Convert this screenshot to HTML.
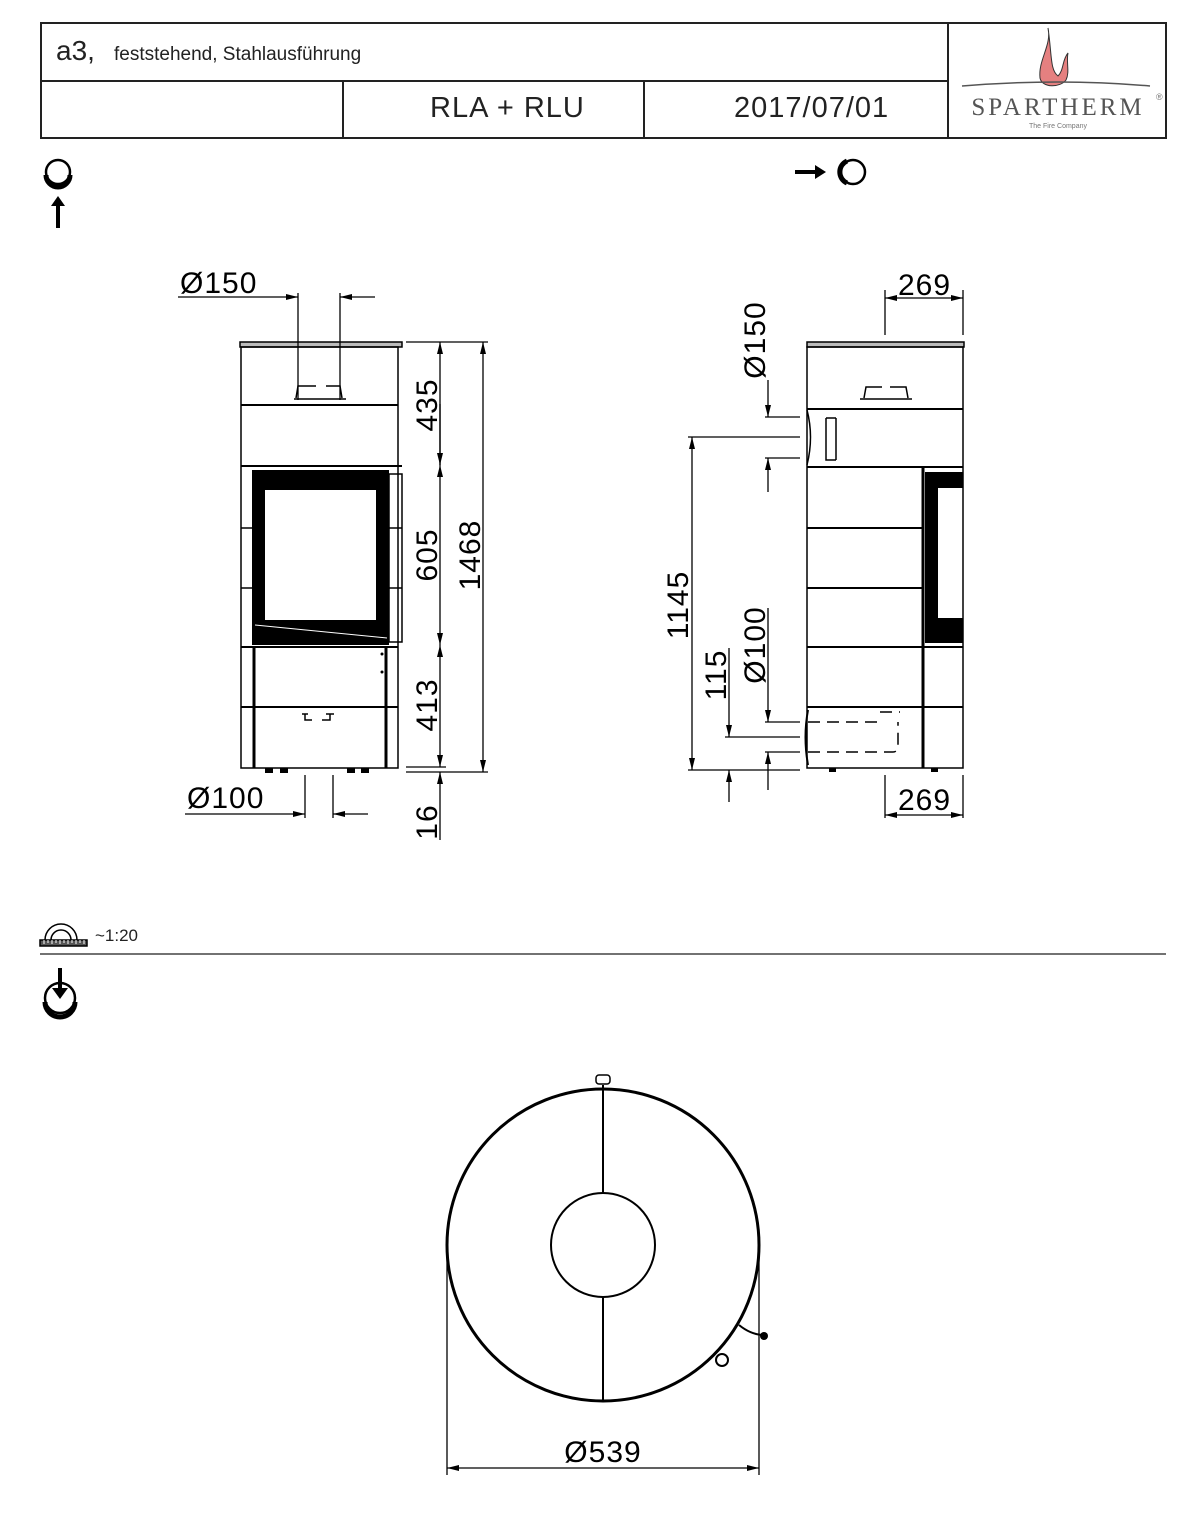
<!DOCTYPE html>
<html><head><meta charset="utf-8"><style>
html,body{margin:0;padding:0;background:#fff;}
svg{display:block;font-family:"Liberation Sans",sans-serif;}
</style></head><body>
<svg width="1200" height="1522" viewBox="0 0 1200 1522" xmlns="http://www.w3.org/2000/svg">
<defs>
<marker id="a" viewBox="0 0 12 6" refX="12" refY="3" markerWidth="12" markerHeight="6" orient="auto" markerUnits="userSpaceOnUse"><path d="M0,0L12,3L0,6z" fill="#000"/></marker>
</defs>
<g stroke="#222" fill="none" stroke-width="2">
<rect x="41" y="23" width="1125" height="115"/>
<line x1="41" y1="81" x2="948" y2="81"/>
<line x1="948" y1="23" x2="948" y2="138"/>
<line x1="343" y1="81" x2="343" y2="138"/>
<line x1="644" y1="81" x2="644" y2="138"/>
</g>
<text x="56" y="60" font-size="28" fill="#222">a3,</text>
<text x="114" y="60" font-size="19" fill="#222">feststehend, Stahlausführung</text>
<text x="430" y="117" font-size="29" fill="#222" letter-spacing="1">RLA + RLU</text>
<text x="734" y="117" font-size="29" fill="#222" letter-spacing="1">2017/07/01</text>
<!-- logo -->
<path d="M1048,28 C1052,45 1038,60 1040,78 C1042,88 1060,88 1066,80 C1070,72 1066,62 1068,53 C1062,60 1064,70 1058,76 C1050,70 1052,55 1048,28z" fill="#e58080" stroke="#333" stroke-width="1"/>
<path d="M962,86 Q1060,78 1150,86" stroke="#555" fill="none" stroke-width="1.5"/>
<text x="1058" y="115" font-size="25" fill="#555" text-anchor="middle" font-family="Liberation Serif,serif" letter-spacing="3">SPARTHERM</text>
<text x="1058" y="128" font-size="7" fill="#777" text-anchor="middle">The Fire Company</text>
<text x="1156" y="100" font-size="9" fill="#777">®</text>
<!-- view icons -->
<g stroke="#000" fill="none">
<circle cx="58" cy="172" r="12" stroke-width="2.5"/>
<path d="M46,175 A12,12 0 0 0 70,175" stroke-width="5"/>
<line x1="58" y1="228" x2="58" y2="205" stroke-width="4"/>
<circle cx="853" cy="172" r="12" stroke-width="2.5"/>
<path d="M847,161 A12,12 0 0 0 847,183" stroke-width="5"/>
<line x1="795" y1="172" x2="816" y2="172" stroke-width="4"/>
</g>
<path d="M51,206 L58,196 L65,206z" fill="#000"/>
<path d="M815,165 L826,172 L815,179z" fill="#000"/>

<!-- FRONT VIEW -->
<g stroke="#000" fill="none" stroke-width="1.5">
<rect x="240" y="342" width="162" height="5" fill="#bbb"/>
<rect x="241" y="347" width="157" height="421"/>
<line x1="241" y1="405" x2="398" y2="405" stroke-width="2"/>
<line x1="241" y1="466" x2="402" y2="466" stroke-width="2"/>
<line x1="241" y1="647" x2="398" y2="647" stroke-width="2"/>
<line x1="241" y1="707" x2="398" y2="707" stroke-width="2"/>
<rect x="389" y="474" width="13" height="168"/>
<line x1="241" y1="528" x2="252" y2="528"/><line x1="241" y1="588" x2="252" y2="588"/>
<line x1="389" y1="528" x2="402" y2="528"/><line x1="389" y1="588" x2="402" y2="588"/>
<line x1="254" y1="648" x2="254" y2="768" stroke-width="3"/>
<line x1="386" y1="648" x2="386" y2="768" stroke-width="3"/>
<path d="M296,398 L298,386 L316,386 M326,386 L340,386 L342,398 M294,399 L346,399" />
<path d="M305,714 L305,720 L312,720 M322,720 L330,720 L330,714 M302,714 L308,714 M326,714 L334,714"/>
</g>
<path d="M252,470 H389 V645 H252z M265,490 V620 H376 V490z" fill="#000" fill-rule="evenodd"/>
<line x1="255" y1="625" x2="387" y2="638" stroke="#fff" stroke-width="1"/>
<g fill="#000"><rect x="265" y="768" width="8" height="5"/><rect x="280" y="768" width="8" height="5"/><rect x="347" y="768" width="8" height="5"/><rect x="361" y="768" width="8" height="5"/>
<circle cx="382" cy="654" r="1.5"/><circle cx="382" cy="672" r="1.5"/></g>
<!-- front dims -->
<g stroke="#000" stroke-width="1.3" fill="none">
<line x1="298" y1="293" x2="298" y2="400"/><line x1="340" y1="293" x2="340" y2="400"/>
<line x1="178" y1="297" x2="298" y2="297" marker-end="url(#a)"/>
<line x1="375" y1="297" x2="340" y2="297" marker-end="url(#a)"/>
<line x1="305" y1="775" x2="305" y2="818"/><line x1="333" y1="775" x2="333" y2="818"/>
<line x1="185" y1="814" x2="305" y2="814" marker-end="url(#a)"/>
<line x1="368" y1="814" x2="333" y2="814" marker-end="url(#a)"/>
<line x1="406" y1="342" x2="488" y2="342"/>
<line x1="406" y1="767" x2="446" y2="767"/>
<line x1="406" y1="772" x2="488" y2="772"/>
<line x1="440" y1="465" x2="440" y2="342" marker-end="url(#a)"/>
<line x1="440" y1="404" x2="440" y2="465" marker-end="url(#a)"/>
<line x1="440" y1="555" x2="440" y2="465" marker-end="url(#a)"/>
<line x1="440" y1="555" x2="440" y2="645" marker-end="url(#a)"/>
<line x1="440" y1="705" x2="440" y2="645" marker-end="url(#a)"/>
<line x1="440" y1="705" x2="440" y2="767" marker-end="url(#a)"/>
<line x1="440" y1="840" x2="440" y2="772" marker-end="url(#a)"/>
<line x1="483" y1="555" x2="483" y2="342" marker-end="url(#a)"/>
<line x1="483" y1="555" x2="483" y2="772" marker-end="url(#a)"/>
</g>
<g font-size="30" fill="#000" letter-spacing="1">
<text x="180" y="293">Ø150</text>
<text x="187" y="808">Ø100</text>
<text transform="translate(437,405) rotate(-90)" text-anchor="middle">435</text>
<text transform="translate(437,555) rotate(-90)" text-anchor="middle">605</text>
<text transform="translate(437,705) rotate(-90)" text-anchor="middle">413</text>
<text transform="translate(480,555) rotate(-90)" text-anchor="middle">1468</text>
<text transform="translate(437,822) rotate(-90)" text-anchor="middle">16</text>
</g>

<!-- SIDE VIEW -->
<g stroke="#000" fill="none" stroke-width="1.5">
<rect x="807" y="342" width="157" height="5" fill="#bbb"/>
<rect x="807" y="347" width="156" height="421"/>
<line x1="807" y1="409" x2="963" y2="409" stroke-width="2"/>
<line x1="807" y1="467" x2="963" y2="467" stroke-width="2"/>
<line x1="807" y1="528" x2="922" y2="528" stroke-width="2"/>
<line x1="807" y1="588" x2="922" y2="588" stroke-width="2"/>
<line x1="807" y1="647" x2="963" y2="647" stroke-width="2"/>
<line x1="807" y1="707" x2="963" y2="707" stroke-width="2"/>
<line x1="923" y1="467" x2="923" y2="768" stroke-width="3"/>
<path d="M807,410 Q814,437 807,465"/>
<path d="M864,398 L866,387 L882,387 M890,387 L906,387 L908,398 M860,399 L912,399"/>
<path d="M826,418 H836 M826,418 V460 H836 M836,418 V460"/>
<path d="M808,722 H880 M808,752 H893 Q898,752 898,745 V722 M880,712 H900" stroke-dasharray="12,7"/>
<path d="M808,710 Q803,737 808,765" stroke-width="2"/>
</g>
<path d="M925,472 H963 V643 H925z M938,488 V618 H963 V488z" fill="#000" fill-rule="evenodd"/>
<g fill="#000"><rect x="829" y="768" width="7" height="4"/><rect x="931" y="768" width="7" height="4"/></g>
<g stroke="#000" stroke-width="1.3" fill="none">
<line x1="885" y1="290" x2="885" y2="335"/><line x1="963" y1="290" x2="963" y2="335"/>
<line x1="925" y1="298" x2="885" y2="298" marker-end="url(#a)"/>
<line x1="925" y1="298" x2="963" y2="298" marker-end="url(#a)"/>
<line x1="885" y1="775" x2="885" y2="818"/><line x1="963" y1="775" x2="963" y2="818"/>
<line x1="925" y1="815" x2="885" y2="815" marker-end="url(#a)"/>
<line x1="925" y1="815" x2="963" y2="815" marker-end="url(#a)"/>
<line x1="765" y1="417" x2="800" y2="417"/><line x1="688" y1="437" x2="800" y2="437"/><line x1="765" y1="458" x2="800" y2="458"/>
<line x1="768" y1="380" x2="768" y2="417" marker-end="url(#a)"/>
<line x1="768" y1="492" x2="768" y2="458" marker-end="url(#a)"/>
<line x1="692" y1="600" x2="692" y2="437" marker-end="url(#a)"/>
<line x1="692" y1="600" x2="692" y2="770" marker-end="url(#a)"/>
<line x1="688" y1="770" x2="800" y2="770"/>
<line x1="725" y1="737" x2="800" y2="737"/>
<line x1="765" y1="722" x2="800" y2="722"/><line x1="765" y1="752" x2="800" y2="752"/>
<line x1="768" y1="608" x2="768" y2="722" marker-end="url(#a)"/>
<line x1="768" y1="790" x2="768" y2="752" marker-end="url(#a)"/>
<line x1="729" y1="648" x2="729" y2="737" marker-end="url(#a)"/>
<line x1="729" y1="802" x2="729" y2="770" marker-end="url(#a)"/>
</g>
<g font-size="30" fill="#000" letter-spacing="1">
<text x="898" y="295">269</text>
<text x="898" y="810">269</text>
<text transform="translate(765,340) rotate(-90)" text-anchor="middle">Ø150</text>
<text transform="translate(765,645) rotate(-90)" text-anchor="middle">Ø100</text>
<text transform="translate(688,605) rotate(-90)" text-anchor="middle">1145</text>
<text transform="translate(726,675) rotate(-90)" text-anchor="middle">115</text>
</g>

<!-- scale -->
<g stroke="#000" fill="none" stroke-width="1.5">
<path d="M45,940 A16,16 0 0 1 77,940"/><path d="M51,940 A10,10 0 0 1 71,940"/>
<rect x="40" y="940" width="47" height="6" fill="#555"/>
<path d="M44,940V944M48,940V943M52,940V944M56,940V943M60,940V944M64,940V943M68,940V944M72,940V943M76,940V944M80,940V943M84,940V944" stroke="#fff" stroke-width="1"/>
<line x1="40" y1="954" x2="1166" y2="954" stroke="#444"/>
</g>
<text x="95" y="941" font-size="17" fill="#222">~1:20</text>
<g stroke="#000" fill="none">
<circle cx="60" cy="998" r="15" stroke-width="2.5"/>
<path d="M45,1002 A15,15 0 0 0 75,1002" stroke-width="5"/>
<line x1="60" y1="968" x2="60" y2="990" stroke-width="4"/>
</g>
<path d="M52,988 L60,999 L68,988z" fill="#000"/>

<!-- PLAN -->
<g stroke="#000" fill="none">
<circle cx="603" cy="1245" r="156" stroke-width="3"/>
<circle cx="603" cy="1245" r="52" stroke-width="2"/>
<line x1="603" y1="1085" x2="603" y2="1193" stroke-width="2"/>
<line x1="603" y1="1297" x2="603" y2="1401" stroke-width="2"/>
<rect x="596" y="1075" width="14" height="9" rx="3" stroke-width="1.5"/>
<path d="M739,1325 Q750,1334 762,1335" stroke-width="2"/>
<circle cx="722" cy="1360" r="6" stroke-width="2"/>
<line x1="447" y1="1245" x2="447" y2="1475" stroke-width="1.3"/>
<line x1="759" y1="1245" x2="759" y2="1475" stroke-width="1.3"/>
<line x1="603" y1="1468" x2="447" y2="1468" stroke-width="1.3" marker-end="url(#a)"/>
<line x1="603" y1="1468" x2="759" y2="1468" stroke-width="1.3" marker-end="url(#a)"/>
</g>
<circle cx="764" cy="1336" r="4" fill="#000"/>
<text x="603" y="1462" font-size="30" text-anchor="middle" fill="#000" letter-spacing="1">Ø539</text>
</svg>
</body></html>
